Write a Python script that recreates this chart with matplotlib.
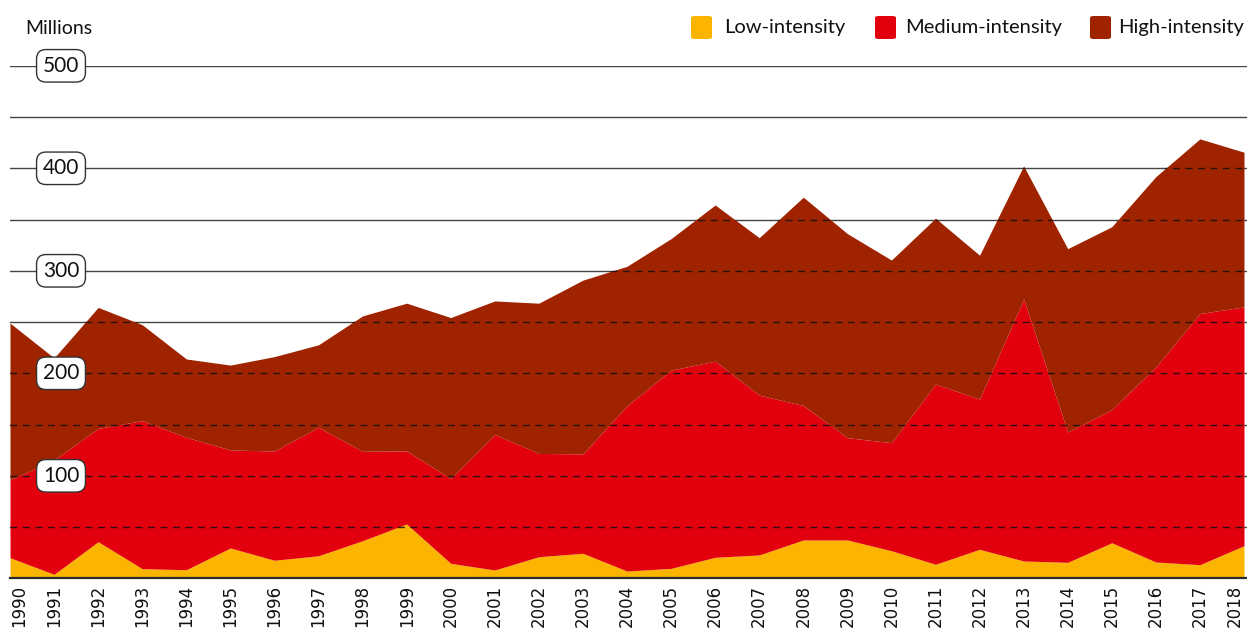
import matplotlib
matplotlib.use("Agg")
import matplotlib.pyplot as plt
import matplotlib.transforms as mtransforms
from matplotlib.patches import FancyBboxPatch
import numpy as np

years = list(range(1990, 2019))
low = [20.1, 3.9, 35.7, 9.4, 8.4, 29.6, 17.6, 22.0, 36.7, 53.0,
       14.6, 8.1, 21.1, 24.4, 7.1, 9.7, 20.5, 22.8, 37.4, 37.4,
       26.9, 13.7, 28.3, 16.9, 15.6, 34.7, 15.9, 13.3, 31.8]
medium = [75.9, 111.5, 110.6, 144.4, 129.2, 95.6, 106.6, 125.3, 87.2, 71.3,
          82.7, 132.2, 100.7, 97.0, 161.2, 193.4, 191.4, 155.9, 131.2, 99.8,
          105.4, 175.8, 146.6, 255.5, 127.1, 129.9, 190.3, 245.0, 233.0]
high = [153.0, 99.6, 118.0, 93.6, 76.4, 82.8, 92.1, 80.5, 132.1, 144.1,
        157.1, 130.3, 146.6, 169.5, 136.1, 128.3, 152.3, 153.6, 203.2, 199.1,
        178.2, 161.8, 140.3, 129.9, 178.9, 178.4, 185.7, 170.4, 150.9]
series_names = ["Low-intensity", "Medium-intensity", "High-intensity"]
colors = ["#FBB400", "#E2000F", "#A02300"]
y_ticks = [100, 200, 300, 400, 500]
grid_levels = [50, 100, 150, 200, 250, 300, 350, 400, 450, 500]
y_unit = "Millions"

W, H = 1247, 628
fig = plt.figure(figsize=(W / 100, H / 100), dpi=100)
x0, x1 = 10, 1247
yb, yt = 578.3, 65.8
ax = fig.add_axes([x0 / W, 1 - yb / H, (x1 - x0) / W, (yb - yt) / H])

x = np.array(years, dtype=float)
l = np.array(low); m = np.array(medium); h = np.array(high)
c1 = l; c2 = l + m; c3 = l + m + h

ax.set_xlim(1990, 2018 + 3 / 44.07)
ax.set_ylim(0, 500)

# solid gridlines beneath areas
for g in grid_levels:
    ax.axhline(g, color="#444444", lw=1.0, zorder=1)

ax.fill_between(x, 0, c1, color=colors[0], lw=0, zorder=2)
ax.fill_between(x, c1, c2, color=colors[1], lw=0, zorder=2)
ax.fill_between(x, c2, c3, color=colors[2], lw=0, zorder=2)
total_poly = ax.fill_between(x, 0, c3, color="none", lw=0, zorder=0)
clip_path = total_poly.get_paths()[0]

# dashed gridlines over the areas
for g in grid_levels:
    ln = ax.axhline(g, color="#111111", lw=1.0, ls=(0, (5, 4)), zorder=3, alpha=0.85)
    ln.set_clip_path(clip_path, ax.transData)

# y labels in rounded boxes
trans = mtransforms.blended_transform_factory(ax.transAxes, ax.transData)
for v in y_ticks:
    ax.text((61 - x0) / (x1 - x0), v, str(v), transform=trans, ha="center", va="center",
            fontsize=15, family="Lato", color="#111111", zorder=5,
            bbox=dict(boxstyle="round,pad=0.3,rounding_size=0.45", fc="white",
                      ec="#333333", lw=1.0))

for s in ["top", "right", "left"]:
    ax.spines[s].set_visible(False)
ax.spines["bottom"].set_color("#2a2a2a")
ax.spines["bottom"].set_linewidth(1.6)
ax.spines["bottom"].set_zorder(4)
ax.set_yticks([])
ax.set_xticks(years)
ax.set_xticklabels([str(y) for y in years], rotation=90, fontsize=12,
                   family="DejaVu Sans", color="#111111")
ax.tick_params(axis="x", length=0, pad=4.5)
labels = ax.get_xticklabels()
labels[0].set_ha("left")
labels[-1].set_ha("right")

fig.text(25 / W, 1 - 28 / H, y_unit, fontsize=14, family="Lato", color="#111111",
         ha="left", va="center")

# legend
leg_sq = [691, 875, 1090]
leg_tx = [724, 905, 1118]
for i, name in enumerate(series_names):
    sq = FancyBboxPatch((leg_sq[i] / W, 1 - 39 / H), 21 / W, 23 / H,
                        boxstyle="round,pad=0,rounding_size=0.003",
                        transform=fig.transFigure, fc=colors[i], ec="none")
    fig.add_artist(sq)
    fig.text(leg_tx[i] / W, 1 - 28 / H, name, fontsize=14.5, family="Lato",
             color="#111111", ha="left", va="center")

fig.savefig("out.png", dpi=100)
